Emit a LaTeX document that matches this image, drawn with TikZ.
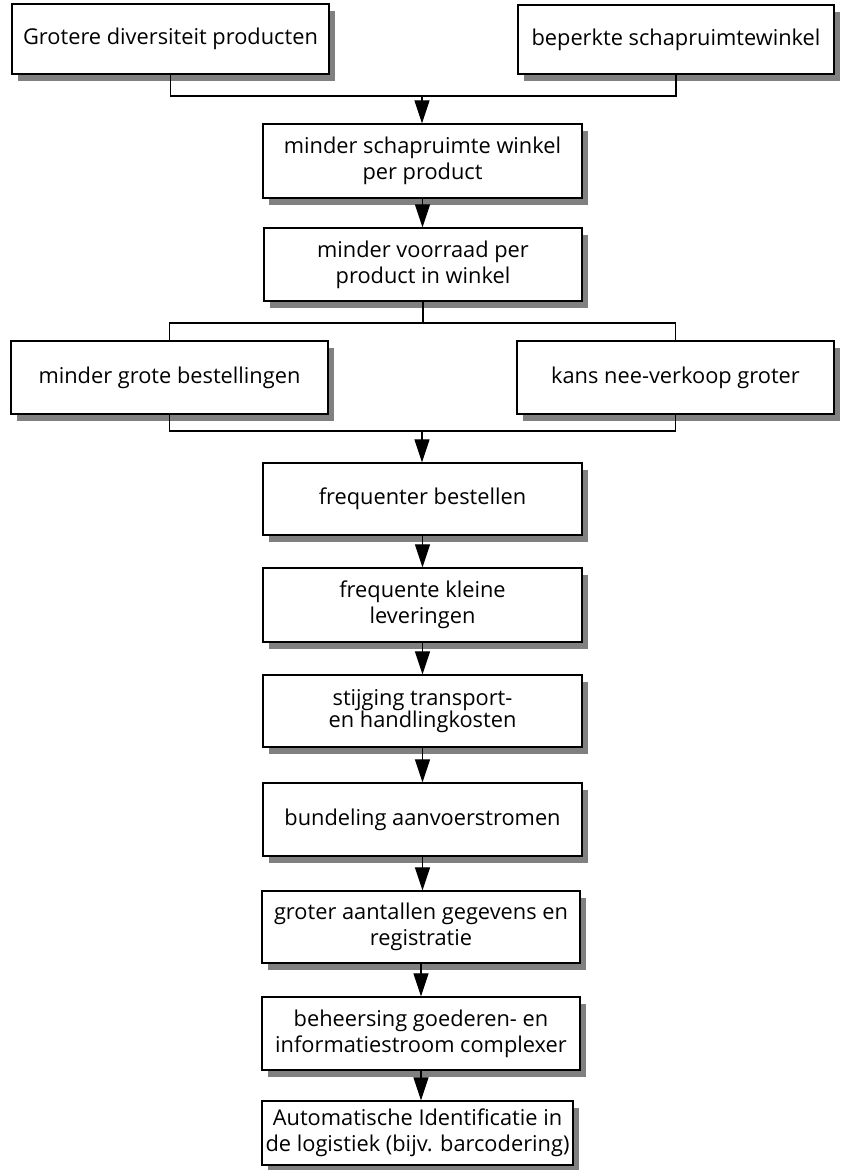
\documentclass[tikz,border=0pt]{standalone}
\usepackage{fontspec}
\setmainfont{Open Sans}
\usetikzlibrary{arrows.meta,shadows}
\begin{document}
\begin{tikzpicture}[x=1pt,y=-1pt,
  box/.style={draw=black, line width=1.3pt, fill=white, inner sep=0pt, align=center,
    font=\fontsize{21.8}{26}\selectfont,
    drop shadow={shadow xshift=6pt, shadow yshift=-7pt, fill=black!50, opacity=1}},
  conn/.style={line width=1.2pt},
  arr/.style={line width=1.2pt, -{Triangle[width=15pt,length=23pt]}}]
\useasboundingbox (0,0) rectangle (842,1170);
\node[box, minimum width=317pt, minimum height=70pt] (b1) at (170.5,39) {Grotere diversiteit producten};
\node[box, minimum width=316pt, minimum height=69pt] (b2) at (676,39.5) {beperkte schapruimtewinkel};
\node[box, minimum width=319pt, minimum height=74pt] (b3) at (422.5,161) {minder schapruimte winkel\\per product};
\node[box, minimum width=318pt, minimum height=73pt] (b4) at (423,264.5) {minder voorraad per\\product in winkel};
\node[box, minimum width=317pt, minimum height=73pt] (b5) at (169.5,377.5) {minder grote bestellingen};
\node[box, minimum width=317pt, minimum height=73pt] (b6) at (675.5,377.5) {kans nee-verkoop groter};
\node[box, minimum width=319pt, minimum height=72pt] (b7) at (422.5,499) {frequenter bestellen};
\node[box, minimum width=319pt, minimum height=74pt] (b8) at (422.5,605) {frequente kleine\\leveringen};
\node[box, minimum width=319pt, minimum height=72pt, font=\fontsize{21.8}{22}\selectfont] (b9) at (422.5,711) {stijging transport-\\en handlingkosten};
\node[box, minimum width=319pt, minimum height=73pt] (b10) at (422.5,819.5) {bundeling aanvoerstromen};
\node[box, minimum width=318pt, minimum height=72pt] (b11) at (421,927) {groter aantallen gegevens en\\registratie};
\node[box, minimum width=318pt, minimum height=73pt] (b12) at (421,1033.5) {beheersing goederen- en\\informatiestroom complexer};
\node[box, minimum width=311pt, minimum height=64pt] (b13) at (417.5,1133) {Automatische Identificatie in\\de logistiek (bijv. barcodering)};
\coordinate (j1) at (422,96);
\draw[conn] (b1.south) -- (b1.south |- j1) -- (b2.south |- j1) -- (b2.south);
\draw[arr] (j1) -- (j1 |- b3.north);
\draw[arr] (b3.south) -- (b3.south |- b4.north);
\coordinate (j2) at (423,323);
\draw[conn] (b4.south) -- (j2);
\draw[conn] (b5.north) -- (b5.north |- j2) -- (b6.north |- j2) -- (b6.north);
\coordinate (j3) at (422,431);
\draw[conn] (b5.south) -- (b5.south |- j3) -- (b6.south |- j3) -- (b6.south);
\draw[arr] (j3) -- (j3 |- b7.north);
\draw[arr] (b7.south) -- (b7.south |- b8.north);
\draw[arr] (b8.south) -- (b8.south |- b9.north);
\draw[arr] (b9.south) -- (b9.south |- b10.north);
\draw[arr] (b10.south) -- (b10.south |- b11.north);
\draw[arr] (b11.south) -- (b11.south |- b12.north);
\draw[arr] (b12.south) -- (b12.south |- b13.north);
\end{tikzpicture}
\end{document}
